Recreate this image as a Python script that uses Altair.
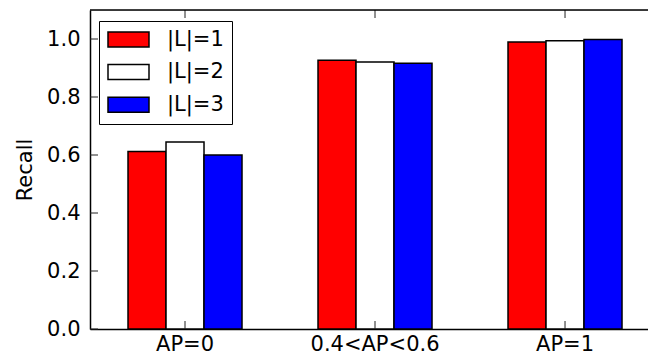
import altair as alt
import pandas as pd

categories = ["AP=0", "0.4<AP<0.6", "AP=1"]
series = ["|L|=1", "|L|=2", "|L|=3"]
recall_L1 = [0.612, 0.927, 0.990]
recall_L2 = [0.645, 0.921, 0.994]
recall_L3 = [0.600, 0.916, 0.998]
colors = ["#ff0000", "#ffffff", "#0000ff"]
y_ticks = [0.0, 0.2, 0.4, 0.6, 0.8, 1.0]

rows = []
for s, vals in zip(series, [recall_L1, recall_L2, recall_L3]):
    for c, v in zip(categories, vals):
        rows.append({"cat": c, "series": s, "recall": v})
df = pd.DataFrame(rows)
ytick_df = pd.DataFrame({"recall": y_ticks})
cat_df = pd.DataFrame({"cat": categories})
one_df = pd.DataFrame({"a": [0]})

W = 558
H = 319
FONT = "DejaVu Sans"
FS = 21

xscale = alt.Scale(domain=categories, paddingInner=0.4, paddingOuter=0.1684, align=0.594)
yscale = alt.Scale(domain=[0, 1.1], nice=False)

xaxis = alt.Axis(title=None, labelAngle=0, ticks=False, labelPadding=4,
                 labelFontSize=FS, labelFont=FONT, labelColor="black",
                 domainColor="black", domainWidth=1.5, grid=False)
yaxis = alt.Axis(title="Recall", values=y_ticks, format=".1f", ticks=False,
                 labelPadding=10, labelFontSize=FS, labelFont=FONT, labelColor="black",
                 titleFontSize=FS, titleFont=FONT, titleFontWeight="normal",
                 titleColor="black", titlePadding=11,
                 domainColor="black", domainWidth=1.5, grid=False)

X = alt.X("cat:N", scale=xscale, axis=xaxis, bandPosition=0.5)
Y = alt.Y("recall:Q", scale=yscale, axis=yaxis)

bars = alt.Chart(df).mark_bar(stroke="black", strokeWidth=1.5, opacity=1).encode(
    x=alt.X("cat:N", scale=xscale, axis=xaxis),
    xOffset=alt.XOffset("series:N", sort=series, scale=alt.Scale(paddingInner=0, paddingOuter=0)),
    y=Y,
    color=alt.Color("series:N", scale=alt.Scale(domain=series, range=colors),
                    legend=alt.Legend(title=None, orient="none", legendX=9, legendY=11,
                                      symbolType="M-1,-0.366L1,-0.366L1,0.366L-1,0.366Z",
                                      symbolSize=1681, symbolStrokeColor="black",
                                      symbolStrokeWidth=1.5, symbolOpacity=1,
                                      clipHeight=21,
                                      labelFontSize=FS, labelFont=FONT, labelColor="black",
                                      labelOffset=17, rowPadding=10.6, padding=8,
                                      strokeColor="black", fillColor="white",
                                      cornerRadius=0, labelLimit=300)),
)

tick_style = dict(color="#222222", strokeWidth=1)
left_ticks = alt.Chart(ytick_df).mark_rule(**tick_style).encode(
    y=Y, x=alt.value(0), x2=alt.value(8))
bottom_ticks = alt.Chart(cat_df).mark_rule(**tick_style).encode(
    x=X, y=alt.value(H), y2=alt.value(H - 8))
top_ticks = alt.Chart(cat_df).mark_rule(**tick_style).encode(
    x=X, y=alt.value(0), y2=alt.value(8))
top_border = alt.Chart(one_df).mark_rule(color="black", strokeWidth=1.5).encode(
    x=alt.value(0), x2=alt.value(W), y=alt.value(0))

chart = alt.layer(bars, left_ticks, bottom_ticks, top_ticks, top_border).properties(
    width=W, height=H,
    autosize=alt.AutoSizeParams(type="none"),
    padding={"left": 82, "top": 2, "right": 0, "bottom": 26},
).configure_view(stroke=None).configure(background="white")

chart.save("out.html", embed_options={"renderer": "svg", "actions": False})
